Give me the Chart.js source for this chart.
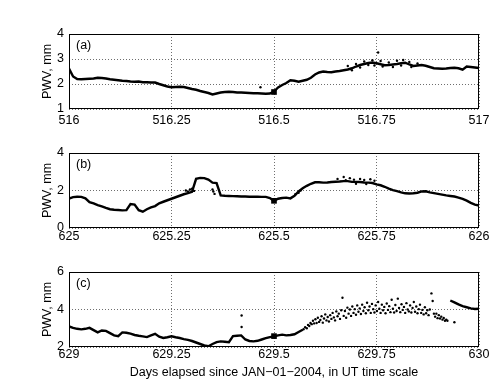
<!DOCTYPE html>
<html>
<head>
<meta charset="utf-8">
<script src="https://cdn.jsdelivr.net/npm/chart.js@4.4.1/dist/chart.umd.min.js"></script>
<style>
  body { margin: 0; background: #fff; }
  canvas { position: absolute; left: 0; }
</style>
</head>
<body>
<canvas id="chartA" width="495" height="130" style="top:0px"></canvas>
<canvas id="chartB" width="495" height="130" style="top:119px"></canvas>
<canvas id="chartC" width="495" height="144" style="top:238px"></canvas>
<script>
// PWV samples every 0.01 day
const pwvA = [2.62, 2.30, 2.20, 2.19, 2.20, 2.21, 2.22, 2.25, 2.24, 2.22,
  2.19, 2.17, 2.15, 2.13, 2.12, 2.10, 2.09, 2.10, 2.07, 2.07,
  2.06, 2.06, 2.00, 1.95, 1.90, 1.87, 1.88, 1.89, 1.88, 1.84,
  1.80, 1.77, 1.72, 1.68, 1.64, 1.58, 1.62, 1.66, 1.68, 1.69,
  1.68, 1.66, 1.66, 1.65, 1.64, 1.63, 1.63, 1.62, 1.61, 1.62,
  1.70, 1.86, 1.96, 2.04, 2.15, 2.13, 2.09, 2.13, 2.17, 2.25,
  2.38, 2.46, 2.50, 2.48, 2.47, 2.50, 2.52, 2.55, 2.58, 2.63,
  2.70, 2.76, 2.80, 2.84, 2.86, 2.83, 2.79, 2.75, 2.76, 2.78,
  2.80, 2.83, 2.85, 2.78, 2.72, 2.74, 2.76, 2.73, 2.68, 2.63,
  2.62, 2.61, 2.62, 2.64, 2.65, 2.63, 2.57, 2.70, 2.68, 2.66, 2.64];

const pwvB = [1.57, 1.65, 1.67, 1.66, 1.58, 1.38, 1.31, 1.22, 1.15, 1.07,
  1.00, 0.97, 0.96, 0.94, 0.95, 1.28, 1.25, 0.95, 0.87, 1.00,
  1.10, 1.17, 1.32, 1.40, 1.48, 1.56, 1.64, 1.72, 1.80, 1.86,
  1.93, 2.62, 2.67, 2.66, 2.58, 2.42, 2.40, 1.74, 1.72, 1.71,
  1.70, 1.69, 1.68, 1.68, 1.67, 1.67, 1.67, 1.66, 1.66, 1.60,
  1.45, 1.56, 1.60, 1.62, 1.58, 1.72, 1.95, 2.12, 2.25, 2.36,
  2.44, 2.44, 2.42, 2.43, 2.45, 2.47, 2.48, 2.50, 2.50, 2.46,
  2.46, 2.45, 2.43, 2.42, 2.40, 2.33, 2.28, 2.20, 2.10, 2.02,
  1.97, 1.90, 1.85, 1.84, 1.85, 1.88, 1.95, 1.96, 1.90, 1.86,
  1.82, 1.78, 1.74, 1.71, 1.68, 1.62, 1.55, 1.46, 1.34, 1.25, 1.20];

const pwvC = [3.10, 3.02, 2.97, 2.94, 2.97, 3.02, 2.90, 2.78, 2.88, 2.86,
  2.74, 2.62, 2.58, 2.78, 2.76, 2.71, 2.64, 2.60, 2.57, 2.53,
  2.62, 2.70, 2.55, 2.48, 2.52, 2.57, 2.52, 2.48, 2.42, 2.38,
  2.32, 2.24, 2.16, 2.08, 2.04, 2.16, 2.26, 2.30, 2.28, 2.26,
  2.58, 2.60, 2.62, 2.40, 2.32, 2.30, 2.33, 2.40, 2.47, 2.53,
  2.57, 2.62, 2.66, 2.62, 2.64, 2.68, 2.80, 2.92,
  null, null, null, null, null, null, null, null, null, null,
  null, null, null, null, null, null, null, null, null, null,
  null, null, null, null, null, null, null, null, null, null,
  null, null, null, null, null,
  4.48, 4.38, 4.27, 4.18, 4.12, 4.06, 4.03, 4.04];

// scattered single readings [day, PWV]
const dotsA = [[516.467, 1.87], [516.754, 3.26], [516.68, 2.72], [516.69, 2.55], [516.70, 2.80],
  [516.71, 2.66], [516.72, 2.90], [516.73, 2.76], [516.74, 2.95], [516.745, 2.74], [516.76, 2.92],
  [516.765, 2.70], [516.78, 2.86], [516.79, 2.68], [516.80, 2.93], [516.81, 2.74], [516.815, 2.96],
  [516.83, 2.88], [516.835, 2.68], [516.85, 2.82]];

const dotsB = [[625.285, 2.00], [625.29, 1.95], [625.295, 2.05], [625.30, 2.10], [625.305, 1.98],
  [625.35, 2.05], [625.352, 1.95], [625.355, 1.82], [625.552, 1.80], [625.56, 1.88], [625.565, 2.00],
  [625.655, 2.62], [625.67, 2.72], [625.675, 2.55], [625.685, 2.66], [625.695, 2.58], [625.70, 2.36],
  [625.71, 2.62], [625.72, 2.56], [625.725, 2.35], [625.735, 2.60], [625.745, 2.52]];

const dotsC = [[629.421, 3.68], [629.421, 3.07],
  [629.572, 2.95], [629.576, 3.05], [629.580, 3.00], [629.583, 3.18], [629.586, 3.12], [629.589, 3.28],
  [629.592, 3.22], [629.595, 3.40], [629.598, 3.26], [629.601, 3.48], [629.604, 3.28], [629.607, 3.56],
  [629.610, 3.34], [629.613, 3.44], [629.616, 3.64], [629.619, 3.30], [629.622, 3.52], [629.625, 3.74],
  [629.628, 3.42], [629.631, 3.60], [629.634, 3.36], [629.637, 3.70], [629.640, 3.50], [629.643, 3.82],
  [629.646, 3.58], [629.649, 3.42], [629.652, 3.90], [629.655, 3.64], [629.658, 3.78], [629.661, 3.50],
  [629.664, 3.96], [629.667, 4.63], [629.670, 3.66], [629.673, 3.92], [629.676, 3.56], [629.679, 4.10],
  [629.682, 3.78], [629.685, 4.00], [629.688, 3.66], [629.691, 4.16], [629.694, 3.82], [629.697, 4.02],
  [629.700, 3.72], [629.703, 4.22], [629.706, 3.88], [629.709, 4.06], [629.712, 3.76], [629.715, 4.26],
  [629.718, 3.92], [629.721, 4.12], [629.724, 3.80], [629.727, 4.36], [629.730, 3.96], [629.733, 4.16],
  [629.736, 3.82], [629.739, 4.30], [629.742, 4.02], [629.745, 3.84], [629.748, 4.22], [629.751, 3.92],
  [629.754, 4.40], [629.757, 4.04], [629.760, 3.82], [629.763, 4.26], [629.766, 3.96], [629.769, 4.14],
  [629.772, 3.80], [629.775, 4.32], [629.778, 3.98], [629.781, 4.18], [629.784, 3.86], [629.787, 4.52],
  [629.790, 4.04], [629.793, 3.84], [629.796, 4.24], [629.799, 3.92], [629.802, 4.58], [629.805, 4.08],
  [629.808, 3.86], [629.811, 4.28], [629.814, 3.98], [629.817, 4.14], [629.820, 3.82], [629.823, 4.34],
  [629.826, 4.00], [629.829, 3.90], [629.832, 4.22], [629.835, 3.84], [629.838, 4.08], [629.841, 4.40],
  [629.844, 3.88], [629.847, 4.16], [629.850, 3.80], [629.853, 4.02], [629.856, 4.26], [629.859, 3.82],
  [629.862, 3.98], [629.865, 3.74], [629.868, 4.12], [629.871, 3.80], [629.874, 3.96], [629.877, 3.70],
  [629.880, 4.00], [629.884, 4.86], [629.887, 4.45], [629.890, 3.78], [629.893, 3.62], [629.896, 3.78],
  [629.899, 3.54], [629.902, 3.70], [629.905, 3.52], [629.908, 3.62], [629.911, 3.46], [629.914, 3.55],
  [629.917, 3.40], [629.920, 3.46], [629.923, 3.40], [629.940, 3.32]];

// dense clump of samples right at mid-day
const clumps = [[516.5, 1.68], [625.5, 1.45], [629.5, 2.58]];

const startDays = [516, 625, 629];
const yRanges = [[1, 4, 1], [0, 4, 2], [2, 6, 2]];
const panelTags = ['(a)', '(b)', '(c)'];
const xTitle = 'Days elapsed since JAN\u221201\u22122004, in UT time scale';
const yTitle = 'PWV, mm';

const FONT = 'Liberation Sans, Arial, sans-serif';
const GRID = '#6e6e6e';

const boxPlugin = {
  id: 'box',
  afterDraw(chart, args, opts) {
    const { ctx, chartArea: a } = chart;
    ctx.save();
    ctx.strokeStyle = '#000';
    ctx.lineWidth = 1;
    const l = Math.round(a.left) + 0.5, t = Math.round(a.top) + 0.5;
    const r = Math.round(a.right) - 0.5, b = Math.round(a.bottom) - 0.5;
    ctx.strokeRect(l, t, r - l, b - t);
    ctx.fillStyle = '#000';
    ctx.font = '12.5px ' + FONT;
    ctx.textBaseline = 'top';
    ctx.fillText(opts.tag, a.left + 7, a.top + 5);
    ctx.restore();
  }
};

function makeChart(id, i, pwv, dots, xAxisH, tickPad, showTitle) {
  const day0 = startDays[i];
  const linePts = pwv.map((v, k) => ({ x: day0 + k / 100, y: v }));
  const dotPts = dots.map(d => ({ x: d[0], y: d[1] }));
  const clump = [{ x: clumps[i][0], y: clumps[i][1] }];
  const [ymin, ymax, ystep] = yRanges[i];
  return new Chart(document.getElementById(id), {
    type: 'scatter',
    data: {
      datasets: [
        { data: linePts, showLine: true, borderColor: '#000', borderWidth: 2.4,
          pointRadius: 0, tension: 0, spanGaps: false },
        { data: dotPts, pointRadius: 1.2, backgroundColor: '#000', borderWidth: 0 },
        { data: clump, pointStyle: 'rect', pointRadius: 4, backgroundColor: '#000', borderWidth: 0 }
      ]
    },
    options: {
      responsive: false,
      animation: false,
      layout: { padding: { top: 34, right: 16, left: 0, bottom: 0 } },
      plugins: { legend: { display: false }, tooltip: { enabled: false }, box: { tag: panelTags[i] } },
      scales: {
        x: {
          type: 'linear', min: day0, max: day0 + 1,
          afterFit: s => { s.height = xAxisH; },
          grid: { color: GRID, lineWidth: 1, drawTicks: false },
          border: { display: false, dash: [1, 2] },
          ticks: {
            stepSize: 0.25, autoSkip: false, maxRotation: 0, padding: tickPad, color: '#000',
            font: { family: FONT, size: 12.5 },
            callback: v => String(+v.toFixed(2))
          },
          title: {
            display: showTitle, text: xTitle, color: '#000',
            font: { family: FONT, size: 12.5 }, padding: { top: 0, bottom: 2 }
          }
        },
        y: {
          min: ymin, max: ymax,
          afterFit: s => { s.width = 69; },
          grid: { color: GRID, lineWidth: 1, drawTicks: false },
          border: { display: false, dash: [1, 2] },
          ticks: { stepSize: ystep, padding: 5, color: '#000', font: { family: FONT, size: 12.5 } },
          title: {
            display: true, text: yTitle, color: '#000',
            font: { family: FONT, size: 12.5 }, padding: { top: 40, bottom: 0 }
          }
        }
      }
    },
    plugins: [boxPlugin]
  });
}

makeChart('chartA', 0, pwvA, dotsA, 21, 4, false);
makeChart('chartB', 1, pwvB, dotsB, 21, 1, false);
makeChart('chartC', 2, pwvC, dotsC, 35, 0, true);
</script>
</body>
</html>
